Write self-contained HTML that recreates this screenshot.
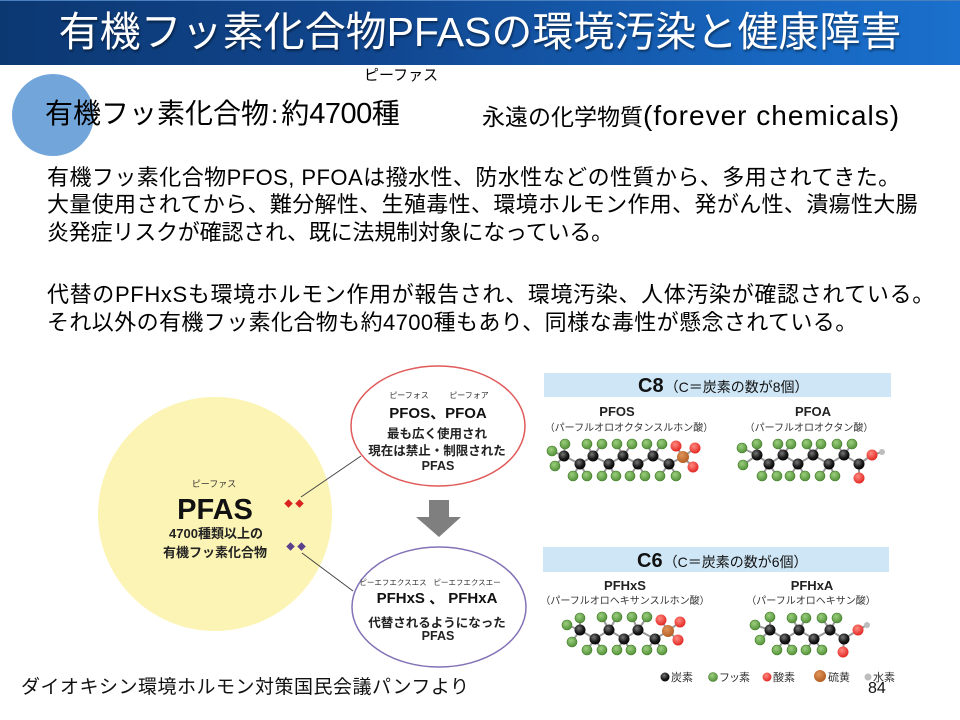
<!DOCTYPE html>
<html><head><meta charset="utf-8">
<style>
html,body{margin:0;padding:0;}
body{width:960px;height:720px;position:relative;overflow:hidden;background:#fff;font-family:"Liberation Sans","Noto Sans CJK JP",sans-serif;color:#000;}
.abs{position:absolute;white-space:nowrap;}
#bar{position:absolute;left:0;top:0;width:960px;height:65px;background:linear-gradient(90deg,#0c3872 0%,#114790 40%,#1766bf 80%,#1a70cc 100%);border-top:1px solid #4a7fc0;box-sizing:border-box;}
#title{position:absolute;left:0;top:0;width:960px;height:65px;line-height:64px;text-align:center;color:#fff;font-size:41px;text-shadow:1px 2px 2px rgba(0,0,0,0.45);}
.body{font-size:22px;line-height:28px;left:47px;}
</style></head>
<body>
<div id="bar"></div>
<div id="title">有機フッ素化合物PFASの環境汚染と健康障害</div>

<div class="abs" style="left:12px;top:74px;width:82px;height:82px;border-radius:50%;background:#72a5da;"></div>
<div class="abs" style="left:364px;top:67px;font-size:15px;line-height:18px;">ピーファス</div>
<div class="abs" style="left:45px;top:97px;font-size:28px;line-height:34px;">有機フッ素化合物<span style="font-size:26px;margin:0 3px 0 2px;">:</span>約<span style="font-size:29px;letter-spacing:-0.5px;">4700</span>種</div>
<div class="abs" style="left:482px;top:99px;font-size:23px;line-height:34px;">永遠の化学物質<span style="font-size:28px;letter-spacing:1px;">(forever chemicals)</span></div>

<div class="abs body" style="top:164px;letter-spacing:0.45px;">有機フッ素化合物PFOS, PFOAは撥水性、防水性などの性質から、多用されてきた。</div>
<div class="abs body" style="top:191px;letter-spacing:0.35px;">大量使用されてから、難分解性、生殖毒性、環境ホルモン作用、発がん性、潰瘍性大腸</div>
<div class="abs body" style="top:219px;letter-spacing:-0.2px;">炎発症リスクが確認され、既に法規制対象になっている。</div>
<div class="abs body" style="top:281px;letter-spacing:0.65px;">代替のPFHxSも環境ホルモン作用が報告され、環境汚染、人体汚染が確認されている。</div>
<div class="abs body" style="top:309px;letter-spacing:0.4px;">それ以外の有機フッ素化合物も約4700種もあり、同様な毒性が懸念されている。</div>

<svg class="abs" style="left:0;top:0;" width="960" height="720" viewBox="0 0 960 720" xmlns="http://www.w3.org/2000/svg" font-family="Liberation Sans, Noto Sans CJK JP, sans-serif">
  <!-- yellow circle -->
  <circle cx="215" cy="514" r="117" fill="#fcf4b4"/>
  <text x="214" y="487" font-size="9" text-anchor="middle" fill="#333">ピーファス</text>
  <text x="215" y="519" font-size="29" font-weight="bold" text-anchor="middle" fill="#111">PFAS</text>
  <text x="216" y="538" font-size="13" font-weight="bold" text-anchor="middle" fill="#222">4700種類以上の</text>
  <text x="215" y="557" font-size="13" font-weight="bold" text-anchor="middle" fill="#222">有機フッ素化合物</text>
  <!-- diamonds -->
  <g fill="#d8231f">
    <rect x="285.5" y="500.5" width="6" height="6" transform="rotate(45 288.5 503.5)"/>
    <rect x="296.5" y="500.5" width="6" height="6" transform="rotate(45 299.5 503.5)"/>
  </g>
  <g fill="#5b3f8f">
    <rect x="287.5" y="543.5" width="6" height="6" transform="rotate(45 290.5 546.5)"/>
    <rect x="298.5" y="543.5" width="6" height="6" transform="rotate(45 301.5 546.5)"/>
  </g>
  <line x1="301" y1="497" x2="361" y2="456" stroke="#444" stroke-width="1"/>
  <line x1="302" y1="553" x2="353" y2="591" stroke="#444" stroke-width="1"/>
  <!-- ellipses -->
  <ellipse cx="438" cy="426" rx="87" ry="60" fill="#fff" stroke="#e05a5a" stroke-width="1.5"/>
  <ellipse cx="439" cy="607" rx="87" ry="60" fill="#fff" stroke="#8472b6" stroke-width="1.5"/>
  <text x="409" y="398" font-size="8" text-anchor="middle" fill="#333">ピーフォス</text>
  <text x="469" y="398" font-size="8" text-anchor="middle" fill="#333">ピーフォア</text>
  <text x="438" y="418" font-size="15" font-weight="bold" text-anchor="middle" fill="#111">PFOS、PFOA</text>
  <text x="437" y="438" font-size="12.5" font-weight="bold" text-anchor="middle" fill="#222">最も広く使用され</text>
  <text x="437" y="455" font-size="12.5" font-weight="bold" text-anchor="middle" fill="#222">現在は禁止・制限された</text>
  <text x="438" y="470" font-size="12.5" font-weight="bold" text-anchor="middle" fill="#222">PFAS</text>

  <text x="393" y="585" font-size="7.5" text-anchor="middle" fill="#333">ピーエフエクスエス</text>
  <text x="467" y="585" font-size="7.5" text-anchor="middle" fill="#333">ピーエフエクスエー</text>
  <text x="437" y="603" font-size="15" font-weight="bold" text-anchor="middle" fill="#111" xml:space="preserve">PFHxS 、 PFHxA</text>
  <text x="437" y="627" font-size="12.5" font-weight="bold" text-anchor="middle" fill="#222">代替されるようになった</text>
  <text x="438" y="640" font-size="12.5" font-weight="bold" text-anchor="middle" fill="#222">PFAS</text>

  <!-- down arrow -->
  <polygon points="429,500 449,500 449,517 461,517 439,537 416,517 429,517" fill="#7f7f7f"/>

  <!-- C8 header -->
  <rect x="544" y="373" width="347" height="24" fill="#cfe6f6"/>
  <text x="638" y="392" font-size="20" font-weight="bold" fill="#111">C8<tspan font-size="14" font-weight="normal" dx="1">（C＝炭素の数が8個）</tspan></text>
  <text x="617" y="416" font-size="13" font-weight="bold" text-anchor="middle" fill="#222">PFOS</text>
  <text x="629" y="431" font-size="10" text-anchor="middle" fill="#333">（パーフルオロオクタンスルホン酸）</text>
  <text x="813" y="416" font-size="13" font-weight="bold" text-anchor="middle" fill="#222">PFOA</text>
  <text x="809" y="431" font-size="10" text-anchor="middle" fill="#333">（パーフルオロオクタン酸）</text>

  <!-- C6 header -->
  <rect x="543" y="547" width="346" height="25" fill="#cfe6f6"/>
  <text x="637" y="567" font-size="20" font-weight="bold" fill="#111">C6<tspan font-size="14" font-weight="normal" dx="1">（C＝炭素の数が6個）</tspan></text>
  <text x="625" y="590" font-size="13" font-weight="bold" text-anchor="middle" fill="#222">PFHxS</text>
  <text x="625" y="604" font-size="10" text-anchor="middle" fill="#333">（パーフルオロヘキサンスルホン酸）</text>
  <text x="812" y="590" font-size="13" font-weight="bold" text-anchor="middle" fill="#222">PFHxA</text>
  <text x="811" y="604" font-size="10" text-anchor="middle" fill="#333">（パーフルオロヘキサン酸）</text>

  <defs>
    <radialGradient id="gF" cx="0.4" cy="0.35" r="0.7"><stop offset="0" stop-color="#9ccf7e"/><stop offset="1" stop-color="#4f8d34"/></radialGradient>
    <radialGradient id="gC" cx="0.4" cy="0.35" r="0.7"><stop offset="0" stop-color="#777"/><stop offset="0.6" stop-color="#1a1a1a"/><stop offset="1" stop-color="#000"/></radialGradient>
    <radialGradient id="gO" cx="0.4" cy="0.35" r="0.7"><stop offset="0" stop-color="#ff8a80"/><stop offset="1" stop-color="#e0201c"/></radialGradient>
    <radialGradient id="gS" cx="0.4" cy="0.35" r="0.7"><stop offset="0" stop-color="#e0945a"/><stop offset="1" stop-color="#b05a1e"/></radialGradient>
  </defs>

  <!-- PFOS molecule -->
  <g stroke="#999" stroke-width="2">
    <polyline fill="none" points="564,456 580,464 593,456 609,464 623,456 638,464 653,456 669,464 683,457"/>
    <line x1="564" y1="456" x2="565" y2="444"/><line x1="564" y1="456" x2="552" y2="451"/><line x1="564" y1="456" x2="555" y2="466"/>
    <line x1="580" y1="464" x2="573" y2="476"/><line x1="580" y1="464" x2="587" y2="476"/>
    <line x1="593" y1="456" x2="587" y2="444"/><line x1="593" y1="456" x2="602" y2="444"/>
    <line x1="609" y1="464" x2="602" y2="476"/><line x1="609" y1="464" x2="615" y2="476"/>
    <line x1="623" y1="456" x2="617" y2="444"/><line x1="623" y1="456" x2="632" y2="444"/>
    <line x1="638" y1="464" x2="630" y2="476"/><line x1="638" y1="464" x2="645" y2="476"/>
    <line x1="653" y1="456" x2="647" y2="444"/><line x1="653" y1="456" x2="662" y2="444"/>
    <line x1="669" y1="464" x2="660" y2="476"/><line x1="669" y1="464" x2="677" y2="476"/>
    <line x1="683" y1="457" x2="676" y2="446"/><line x1="683" y1="457" x2="695" y2="448"/><line x1="683" y1="457" x2="693" y2="467"/>
  </g>
  <g fill="url(#gF)" stroke="#3f7a28" stroke-width="0.6">
    <circle cx="565" cy="444" r="5"/><circle cx="552" cy="451" r="5"/><circle cx="555" cy="466" r="5"/>
    <circle cx="573" cy="476" r="5"/><circle cx="587" cy="476" r="5"/>
    <circle cx="587" cy="444" r="5"/><circle cx="602" cy="444" r="5"/>
    <circle cx="602" cy="476" r="5"/><circle cx="616" cy="476" r="5"/>
    <circle cx="617" cy="444" r="5"/><circle cx="632" cy="444" r="5"/>
    <circle cx="630" cy="476" r="5"/><circle cx="645" cy="476" r="5"/>
    <circle cx="647" cy="444" r="5"/><circle cx="662" cy="444" r="5"/>
    <circle cx="660" cy="476" r="5"/><circle cx="676" cy="476" r="5"/>
  </g>
  <g fill="url(#gC)">
    <circle cx="564" cy="456" r="5.5"/><circle cx="580" cy="464" r="5.5"/><circle cx="593" cy="456" r="5.5"/><circle cx="609" cy="464" r="5.5"/>
    <circle cx="623" cy="456" r="5.5"/><circle cx="638" cy="464" r="5.5"/><circle cx="653" cy="456" r="5.5"/><circle cx="669" cy="464" r="5.5"/>
  </g>
  <g fill="url(#gO)"><circle cx="676" cy="446" r="5.5"/><circle cx="695" cy="448" r="5.5"/><circle cx="693" cy="467" r="5.5"/></g>
  <circle cx="683" cy="457" r="6" fill="url(#gS)"/>

  <!-- PFOA molecule -->
  <g stroke="#999" stroke-width="2">
    <polyline fill="none" points="757,455 769,464 783,455 798,464 813,455 829,464 844,455 859,464 872,455 882,452"/>
    <line x1="859" y1="464" x2="859" y2="478"/>
    <line x1="757" y1="455" x2="757" y2="444"/><line x1="757" y1="455" x2="742" y2="448"/><line x1="757" y1="455" x2="743" y2="465"/>
    <line x1="769" y1="464" x2="762" y2="476"/><line x1="769" y1="464" x2="777" y2="476"/>
    <line x1="783" y1="455" x2="778" y2="444"/><line x1="783" y1="455" x2="791" y2="444"/>
    <line x1="798" y1="464" x2="790" y2="476"/><line x1="798" y1="464" x2="805" y2="476"/>
    <line x1="813" y1="455" x2="807" y2="444"/><line x1="813" y1="455" x2="820" y2="444"/>
    <line x1="829" y1="464" x2="820" y2="476"/><line x1="829" y1="464" x2="835" y2="476"/>
    <line x1="844" y1="455" x2="837" y2="444"/><line x1="844" y1="455" x2="852" y2="444"/>
  </g>
  <g fill="url(#gF)" stroke="#3f7a28" stroke-width="0.6">
    <circle cx="757" cy="444" r="5"/><circle cx="742" cy="448" r="5"/><circle cx="743" cy="465" r="5"/>
    <circle cx="762" cy="476" r="5"/><circle cx="777" cy="476" r="5"/>
    <circle cx="778" cy="444" r="5"/><circle cx="791" cy="444" r="5"/>
    <circle cx="790" cy="476" r="5"/><circle cx="805" cy="476" r="5"/>
    <circle cx="807" cy="444" r="5"/><circle cx="821" cy="444" r="5"/>
    <circle cx="820" cy="476" r="5"/><circle cx="835" cy="476" r="5"/>
    <circle cx="837" cy="444" r="5"/><circle cx="852" cy="444" r="5"/>
  </g>
  <g fill="url(#gC)">
    <circle cx="757" cy="455" r="5.5"/><circle cx="769" cy="464" r="5.5"/><circle cx="783" cy="455" r="5.5"/><circle cx="798" cy="464" r="5.5"/>
    <circle cx="813" cy="455" r="5.5"/><circle cx="829" cy="464" r="5.5"/><circle cx="844" cy="455" r="5.5"/><circle cx="859" cy="464" r="5.5"/>
  </g>
  <g fill="url(#gO)"><circle cx="872" cy="455" r="5.5"/><circle cx="859" cy="478" r="5.5"/></g>
  <circle cx="882" cy="452" r="3" fill="#bdbdbd"/>

  <!-- PFHxS molecule -->
  <g stroke="#999" stroke-width="2">
    <polyline fill="none" points="580,630 595,639 609,630 624,639 638,630 655,639 668,631"/>
    <line x1="580" y1="630" x2="580" y2="618"/><line x1="580" y1="630" x2="567" y2="625"/><line x1="580" y1="630" x2="572" y2="642"/>
    <line x1="595" y1="639" x2="587" y2="650"/><line x1="595" y1="639" x2="602" y2="650"/>
    <line x1="609" y1="630" x2="602" y2="617"/><line x1="609" y1="630" x2="617" y2="617"/>
    <line x1="624" y1="639" x2="617" y2="650"/><line x1="624" y1="639" x2="630" y2="650"/>
    <line x1="638" y1="630" x2="632" y2="617"/><line x1="638" y1="630" x2="647" y2="617"/>
    <line x1="655" y1="639" x2="647" y2="650"/><line x1="655" y1="639" x2="662" y2="650"/>
    <line x1="668" y1="631" x2="661" y2="620"/><line x1="668" y1="631" x2="680" y2="622"/><line x1="668" y1="631" x2="678" y2="640"/>
  </g>
  <g fill="url(#gF)" stroke="#3f7a28" stroke-width="0.6">
    <circle cx="580" cy="618" r="5"/><circle cx="567" cy="625" r="5"/><circle cx="572" cy="642" r="5"/>
    <circle cx="587" cy="650" r="5"/><circle cx="602" cy="650" r="5"/>
    <circle cx="602" cy="617" r="5"/><circle cx="617" cy="617" r="5"/>
    <circle cx="617" cy="650" r="5"/><circle cx="631" cy="650" r="5"/>
    <circle cx="632" cy="617" r="5"/><circle cx="647" cy="617" r="5"/>
    <circle cx="647" cy="650" r="5"/><circle cx="662" cy="650" r="5"/>
  </g>
  <g fill="url(#gC)">
    <circle cx="580" cy="630" r="5.5"/><circle cx="595" cy="639" r="5.5"/><circle cx="609" cy="630" r="5.5"/>
    <circle cx="624" cy="639" r="5.5"/><circle cx="638" cy="630" r="5.5"/><circle cx="655" cy="639" r="5.5"/>
  </g>
  <g fill="url(#gO)"><circle cx="661" cy="620" r="5.5"/><circle cx="680" cy="622" r="5.5"/><circle cx="678" cy="640" r="5.5"/></g>
  <circle cx="668" cy="631" r="6" fill="url(#gS)"/>

  <!-- PFHxA molecule -->
  <g stroke="#999" stroke-width="2">
    <polyline fill="none" points="770,630 785,639 799,630 814,639 830,630 844,639 858,630 867,625"/>
    <line x1="844" y1="639" x2="843" y2="652"/>
    <line x1="770" y1="630" x2="770" y2="617"/><line x1="770" y1="630" x2="755" y2="625"/><line x1="770" y1="630" x2="760" y2="640"/>
    <line x1="785" y1="639" x2="777" y2="650"/><line x1="785" y1="639" x2="792" y2="650"/>
    <line x1="799" y1="630" x2="792" y2="618"/><line x1="799" y1="630" x2="806" y2="618"/>
    <line x1="814" y1="639" x2="806" y2="650"/><line x1="814" y1="639" x2="822" y2="650"/>
    <line x1="830" y1="630" x2="822" y2="618"/><line x1="830" y1="630" x2="837" y2="618"/>
  </g>
  <g fill="url(#gF)" stroke="#3f7a28" stroke-width="0.6">
    <circle cx="770" cy="617" r="5"/><circle cx="755" cy="625" r="5"/><circle cx="760" cy="640" r="5"/>
    <circle cx="777" cy="650" r="5"/><circle cx="792" cy="650" r="5"/>
    <circle cx="792" cy="618" r="5"/><circle cx="806" cy="618" r="5"/>
    <circle cx="806" cy="650" r="5"/><circle cx="822" cy="650" r="5"/>
    <circle cx="822" cy="618" r="5"/><circle cx="837" cy="618" r="5"/>
  </g>
  <g fill="url(#gC)">
    <circle cx="770" cy="630" r="5.5"/><circle cx="785" cy="639" r="5.5"/><circle cx="799" cy="630" r="5.5"/>
    <circle cx="814" cy="639" r="5.5"/><circle cx="830" cy="630" r="5.5"/><circle cx="844" cy="639" r="5.5"/>
  </g>
  <g fill="url(#gO)"><circle cx="858" cy="630" r="5.5"/><circle cx="843" cy="652" r="5.5"/></g>
  <circle cx="867" cy="625" r="3" fill="#bdbdbd"/>

  <!-- legend -->
  <circle cx="665" cy="677" r="4.5" fill="url(#gC)"/>
  <text x="671" y="681" font-size="11" fill="#333">炭素</text>
  <circle cx="713" cy="677" r="4.5" fill="url(#gF)" stroke="#3f7a28" stroke-width="0.6"/>
  <text x="719" y="681" font-size="11" fill="#333" letter-spacing="-1">フッ素</text>
  <circle cx="767" cy="677" r="4.5" fill="url(#gO)"/>
  <text x="773" y="681" font-size="11" fill="#333">酸素</text>
  <circle cx="820" cy="676" r="6" fill="url(#gS)"/>
  <text x="828" y="681" font-size="11" fill="#333">硫黄</text>
  <circle cx="868" cy="677" r="3.5" fill="#bdbdbd"/>
  <text x="873" y="681" font-size="11" fill="#333">水素</text>
  <text x="868" y="693" font-size="16" fill="#111">84</text>
</svg>

<div class="abs" style="left:21px;top:676px;font-size:19px;line-height:24px;letter-spacing:0.5px;color:#111;">ダイオキシン環境ホルモン対策国民会議パンフより</div>
</body></html>
